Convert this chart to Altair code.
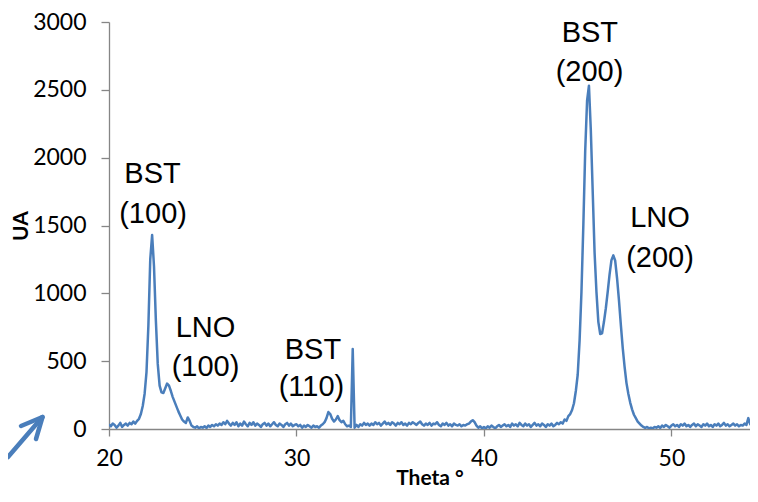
import altair as alt
import pandas as pd

# ---- data (intensity in UA, theta step 0.1 deg) ----
ua_200_219 = [35, 20, 40, 30, 10, 25, 45, 15, 30, 40,
              25, 45, 35, 55, 40, 60, 75, 110, 170, 260]
ua_220_249 = [420, 760, 1250, 1430, 1200, 800, 480, 320, 270, 265,
              300, 335, 320, 280, 235, 200, 165, 130, 100, 70,
              55, 45, 85, 60, 25, 15, 10, 20, 5, 15]
ua_250_299 = [10, 20, 8, 25, 15, 30, 20, 35, 25, 40,
              30, 50, 35, 60, 40, 25, 45, 30, 50, 20,
              40, 25, 55, 35, 20, 45, 30, 50, 25, 40,
              30, 15, 35, 45, 25, 40, 20, 35, 50, 30,
              20, 40, 30, 15, 35, 45, 25, 40, 20, 30]
ua_300_339 = [35, 20, 30, 10, 25, 15, 30, 20, 10, 25,
              15, 20, 10, 25, 35, 50, 80, 125, 110, 75,
              55, 70, 95, 65, 50, 60, 35, 20, 25, 15,
              590, 10, 30, 15, 35, 25, 45, 30, 40, 25]
ua_340_439 = [40, 30, 50, 35, 45, 25, 40, 55, 35, 45,
              30, 50, 40, 25, 45, 35, 50, 30, 40, 25,
              45, 35, 50, 40, 30, 45, 55, 35, 25, 40,
              30, 45, 25, 40, 35, 50, 30, 20, 40, 30,
              45, 25, 35, 20, 40, 30, 25, 35, 20, 30,
              25, 35, 40, 55, 65, 50, 25, 10, 20, 5,
              15, 5, 20, 10, 25, 15, 5, 20, 30, 15,
              25, 35, 20, 30, 15, 40, 25, 35, 20, 45,
              30, 20, 40, 25, 35, 15, 30, 45, 25, 35,
              20, 40, 30, 15, 35, 25, 40, 20, 30, 45]
ua_440_489 = [35, 50, 40, 70, 60, 95, 110, 140, 190, 280,
              400, 650, 1010, 1500, 2050, 2420, 2530, 2200, 1750, 1300,
              1010, 790, 700, 705, 790, 890, 1010, 1140, 1245, 1280,
              1240, 1110, 950, 770, 600, 460, 340, 260, 195, 145,
              105, 80, 55, 40, 25, 15, 8, 15, 5, 10]
ua_490_546 = [5, 15, 10, 20, 8, 25, 15, 30, 20, 10,
              25, 35, 20, 30, 15, 35, 25, 40, 20, 30,
              15, 30, 40, 20, 35, 25, 15, 35, 25, 40,
              20, 30, 15, 35, 25, 40, 20, 30, 45, 25,
              35, 20, 30, 40, 25, 35, 20, 30, 25, 40,
              30, 80, 35, 25, 40, 30, 35]

segments = [(20.0, ua_200_219), (22.0, ua_220_249), (25.0, ua_250_299),
            (30.0, ua_300_339), (34.0, ua_340_439), (44.0, ua_440_489),
            (49.0, ua_490_546)]

theta_ticks = [20, 30, 40, 50]
ua_ticks = [0, 500, 1000, 1500, 2000, 2500, 3000]

ann_lines = ["BST", "(100)", "LNO", "(100)", "BST", "(110)",
             "BST", "(200)", "LNO", "(200)"]
ann_theta = [22.32, 22.35, 25.15, 25.15, 30.88, 30.8, 45.65, 45.63, 49.39, 49.39]
ann_ua = [1883, 1584, 745, 460, 584, 307, 2916, 2628, 1558, 1263]

# ---- build tables ----
rows = []
for start, vals in segments:
    for i, v in enumerate(vals):
        rows.append({"theta": round(start + i * 0.1, 1), "ua": v})
df = pd.DataFrame(rows)
ann = pd.DataFrame({"label": ann_lines, "theta": ann_theta, "ua": ann_ua})

W, H = 641, 407
BLUE = "#4A7EBB"

x_scale = alt.Scale(domain=[20, 54.19], nice=False, zero=False)
y_scale = alt.Scale(domain=[0, 3000], nice=False)

line = alt.Chart(df).mark_line(color=BLUE, strokeWidth=2.5, strokeJoin="round",
                               clip=True).encode(
    x=alt.X("theta:Q", scale=x_scale,
            axis=alt.Axis(values=theta_ticks, title="Theta °", format="d",
                          titlePadding=-3, labelFlush=False)),
    y=alt.Y("ua:Q", scale=y_scale,
            axis=alt.Axis(values=ua_ticks, title="UA", format="d",
                          titlePadding=1, labelFlush=False)),
)

labels = alt.Chart(ann).mark_text(
    font="Liberation Sans", fontSize=29, color="#000000",
    align="center", baseline="middle"
).encode(
    x=alt.X("theta:Q", scale=x_scale),
    y=alt.Y("ua:Q", scale=y_scale),
    text="label:N",
)

# decorative arrow at bottom-left (outside the plot area)
one = pd.DataFrame({"k": [0]})
shaft = alt.Chart(one).mark_rule(
    color=BLUE, strokeWidth=4.5, strokeCap="round"
).encode(x=alt.value(-101), y=alt.value(435), x2=alt.value(-67), y2=alt.value(395.5))
barb1 = alt.Chart(one).mark_rule(
    color=BLUE, strokeWidth=4.5, strokeCap="round"
).encode(x=alt.value(-66.5), y=alt.value(395), x2=alt.value(-88), y2=alt.value(404))
barb2 = alt.Chart(one).mark_rule(
    color=BLUE, strokeWidth=4.5, strokeCap="round"
).encode(x=alt.value(-66.5), y=alt.value(395), x2=alt.value(-73), y2=alt.value(417))

chart = alt.layer(line, labels, shaft, barb1, barb2).properties(
    width=W, height=H,
    autosize=alt.AutoSizeParams(type="none"),
    padding={"left": 101, "top": 14, "right": 0, "bottom": 59},
).configure_view(stroke=None).configure_axis(
    grid=False,
    domainColor="#868686", domainWidth=1.3,
    tickColor="#868686", tickWidth=1.3, tickSize=8,
    labelFont="Lato", labelFontSize=23, labelColor="#000000",
    titleFont="Lato", titleFontSize=21, titleFontWeight="bold", titleColor="#000000",
).configure_axisX(
    labelPadding=11, tickSize=7,
).configure_axisY(
    labelPadding=15,
)

chart.save("out.html", embed_options={"renderer": "svg", "actions": False})
